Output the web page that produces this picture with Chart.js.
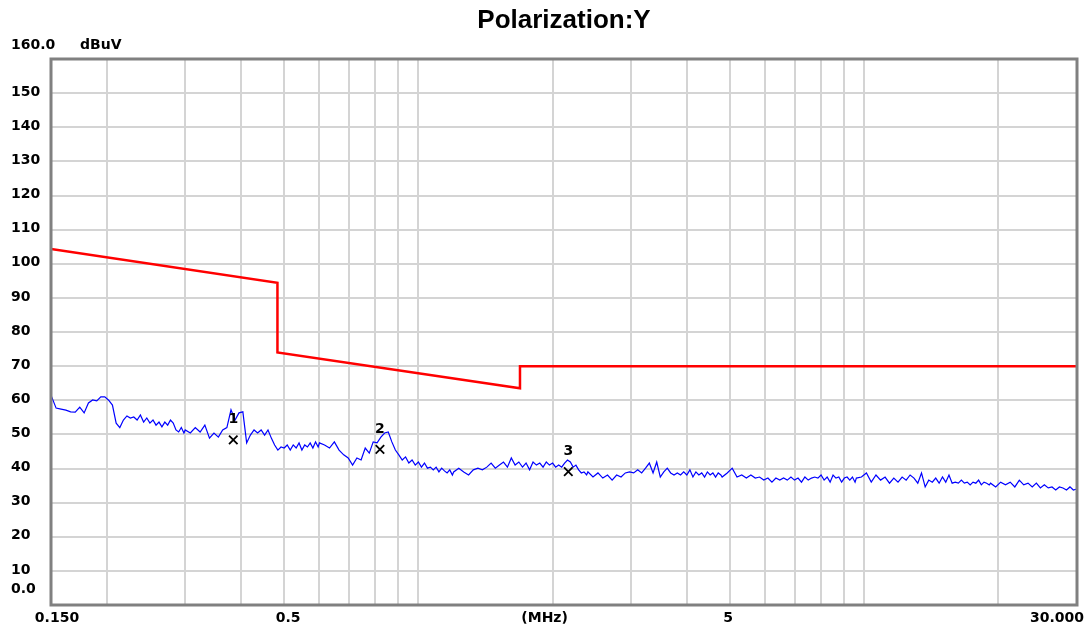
<!DOCTYPE html>
<html>
<head>
<meta charset="utf-8">
<title>Polarization:Y</title>
<script src="https://cdn.jsdelivr.net/npm/chart.js@4.4.0/dist/chart.umd.min.js"></script>
<style>
  html, body { margin: 0; padding: 0; background: #fff; }
  #chart { display: block; }
</style>
</head>
<body>
<canvas id="chart" width="1089" height="631"></canvas>
<script>
// sweep frequencies in MHz, one row per octave
const freqMHz = [
  0.150,0.154,0.158,0.162,0.166,0.170,0.174,0.178,0.182,0.186,0.190,0.194,0.198,0.202,0.206,0.210,0.214,0.218,0.222,0.226,0.230,0.234,0.238,0.242,0.246,0.250,0.254,0.258,0.262,0.266,0.270,0.274,0.278,0.282,0.286,0.290,0.294,0.298,
  0.300,0.308,0.316,0.324,0.332,0.340,0.348,0.356,0.364,0.372,0.380,0.388,0.396,0.404,0.412,0.420,0.428,0.436,0.444,0.452,0.460,0.468,0.476,0.484,0.492,0.500,0.508,0.516,0.524,0.532,0.540,0.548,0.556,0.564,0.572,0.580,0.588,0.596,
  0.600,0.616,0.632,0.648,0.664,0.680,0.696,0.712,0.728,0.744,0.760,0.776,0.792,0.808,0.824,0.840,0.856,0.872,0.888,0.904,0.920,0.936,0.952,0.968,0.984,1.000,1.016,1.032,1.048,1.064,1.080,1.096,1.112,1.128,1.144,1.160,1.176,1.192,
  1.200,1.232,1.264,1.296,1.328,1.360,1.392,1.424,1.456,1.488,1.520,1.552,1.584,1.616,1.648,1.680,1.712,1.744,1.776,1.808,1.840,1.872,1.904,1.936,1.968,2.000,2.032,2.064,2.096,2.128,2.160,2.192,2.224,2.256,2.288,2.320,2.352,2.384,
  2.400,2.464,2.528,2.592,2.656,2.720,2.784,2.848,2.912,2.976,3.040,3.104,3.168,3.232,3.296,3.360,3.424,3.488,3.552,3.616,3.680,3.744,3.808,3.872,3.936,4.000,4.064,4.128,4.192,4.256,4.320,4.384,4.448,4.512,4.576,4.640,4.704,4.768,
  4.800,4.928,5.056,5.184,5.312,5.440,5.568,5.696,5.824,5.952,6.080,6.208,6.336,6.464,6.592,6.720,6.848,6.976,7.104,7.232,7.360,7.488,7.616,7.744,7.872,8.000,8.128,8.256,8.384,8.512,8.640,8.768,8.896,9.024,9.152,9.280,9.408,9.536,
  9.600,9.856,10.112,10.368,10.624,10.880,11.136,11.392,11.648,11.904,12.160,12.416,12.672,12.928,13.184,13.440,13.696,13.952,14.208,14.464,14.720,14.976,15.232,15.488,15.744,16.000,16.256,16.512,16.768,17.024,17.280,17.536,17.792,18.048,18.304,18.560,18.816,19.072,
  19.200,19.712,20.224,20.736,21.248,21.760,22.272,22.784,23.296,23.808,24.320,24.832,25.344,25.856,26.368,26.880,27.392,27.904,28.416,28.928,29.440,29.952,30.000
];
// measured level in dBuV, same rows
const levelDb = [
  61.5,57.7,57.4,57.1,56.6,56.5,58.0,56.3,59.2,60.1,59.8,61.0,61.0,60.0,58.6,53.3,52.0,54.2,55.4,54.8,55.1,54.2,55.7,53.6,54.8,53.3,54.2,52.7,53.6,52.2,53.6,52.7,54.2,53.3,51.3,50.7,52.0,50.4,
  51.3,50.4,52.0,50.7,52.7,48.9,50.4,49.2,51.3,52.0,57.2,54.2,56.3,56.6,47.5,49.8,51.3,50.4,51.3,49.8,51.3,48.9,46.9,45.4,46.3,46.0,46.9,45.4,46.9,46.0,47.5,45.4,46.9,46.3,47.5,46.0,47.8,46.3,
  47.5,46.9,46.0,47.8,45.4,44.0,43.1,41.0,43.1,42.5,46.0,44.5,47.8,47.5,49.2,50.4,50.7,47.8,45.4,44.0,42.5,43.4,41.6,42.5,41.0,41.9,40.4,41.6,40.1,40.4,39.6,40.4,39.0,40.1,39.3,38.7,39.6,38.1,
  39.0,40.1,39.0,38.1,39.6,40.1,39.6,40.4,41.6,40.1,41.0,41.9,40.4,43.1,41.0,41.9,40.4,41.6,39.6,41.9,41.0,41.6,40.4,41.9,41.0,41.6,40.4,41.0,40.4,41.6,42.5,41.9,40.4,41.0,39.6,38.7,39.0,38.1,
  39.0,37.5,38.7,37.2,38.1,36.6,38.1,37.5,38.7,39.0,38.7,39.6,38.7,40.1,41.6,38.7,41.9,37.5,39.0,40.1,38.7,38.1,38.7,38.1,39.0,38.1,39.6,37.5,39.0,38.1,38.7,37.5,39.0,38.1,38.7,37.5,38.7,38.1,
  37.5,38.7,40.1,37.5,38.1,37.2,38.1,37.2,37.5,36.6,37.2,36.0,37.2,36.6,37.2,36.6,37.5,36.6,37.2,36.0,37.5,36.6,37.2,37.5,37.2,38.1,36.6,37.5,36.0,38.1,37.2,37.5,36.0,37.2,37.5,36.6,37.5,36.0,
  37.2,37.5,38.7,36.0,38.1,36.6,37.5,35.7,37.2,36.0,37.5,36.6,38.1,37.2,35.7,38.7,34.6,36.6,36.0,37.2,35.7,37.5,36.0,38.1,35.7,36.0,35.7,36.6,35.7,36.0,35.2,36.0,35.7,36.6,35.2,36.0,35.7,35.2,
  35.7,34.6,36.0,35.2,36.0,34.6,36.6,35.2,35.7,34.6,35.7,34.3,35.2,34.3,34.6,33.7,34.6,34.3,33.7,34.6,33.7,34.0,34.0
];

const limitFreq = [0.15, 0.483, 0.483, 1.69, 1.69, 30];
const limitDb = [104.3, 94.4, 74.0, 63.5, 70, 70];

const markerNo = ['1', '2', '3'];
const markerFreq = [0.3845, 0.820, 2.169];
const markerDb = [48.4, 45.6, 39.1];

const xGrid = [0.2, 0.3, 0.4, 0.5, 0.6, 0.7, 0.8, 0.9, 1, 2, 3, 4, 5, 6, 7, 8, 9, 10, 20];
const yGrid = [0, 10, 20, 30, 40, 50, 60, 70, 80, 90, 100, 110, 120, 130, 140, 150, 160];
const xLabelAt = [0.15, 0.5, 2, 5, 30];
const xLabelText = ['0.150', '0.5', '(MHz)', '5', '30.000'];
const yLabelAt = [10, 20, 30, 40, 50, 60, 70, 80, 90, 100, 110, 120, 130, 140, 150];

const FONT = '"DejaVu Sans", sans-serif';

const textPlugin = {
    id: 'emcText',
    beforeDraw(chart) {
        const ctx = chart.ctx;
        ctx.save();
        ctx.fillStyle = '#fff';
        ctx.fillRect(0, 0, chart.width, chart.height);
        ctx.restore();
    },
    afterDraw(chart) {
        const { ctx, chartArea: a, scales: { x, y } } = chart;
        ctx.save();
        // frame
        ctx.strokeStyle = '#808080';
        ctx.lineWidth = 3;
        ctx.strokeRect(a.left, a.top, a.right - a.left, a.bottom - a.top);

        ctx.fillStyle = '#000';
        ctx.font = 'bold 26px "Liberation Sans", Arial, sans-serif';
        ctx.textAlign = 'center';
        ctx.textBaseline = 'alphabetic';
        ctx.fillText('Polarization:Y', (a.left + a.right) / 2, 28);

        ctx.font = 'bold 14px ' + FONT;
        ctx.textAlign = 'left';
        ctx.textBaseline = 'middle';
        yLabelAt.forEach(v => ctx.fillText(String(v), 11, y.getPixelForValue(v) - 1));
        ctx.fillText('0.0', 11, y.getPixelForValue(0) - 16);
        ctx.fillText('160.0', 11, y.getPixelForValue(160) - 14);
        ctx.fillText('dBuV', 80, y.getPixelForValue(160) - 14);

        // x labels; the last one is kept inside the canvas
        const shift = [6, 4, -8, -2, 0];
        xLabelAt.forEach((v, i) => {
            let px = x.getPixelForValue(v) + shift[i];
            ctx.textAlign = 'center';
            if (i === xLabelAt.length - 1) {
                ctx.textAlign = 'right';
                px = chart.width - 5;
            }
            ctx.fillText(xLabelText[i], px, a.bottom + 13);
        });

        // marker numbers
        ctx.textAlign = 'center';
        markerNo.forEach((n, i) => {
            ctx.fillText(n, x.getPixelForValue(markerFreq[i]), y.getPixelForValue(markerDb[i]) - 20);
        });
        ctx.restore();
    }
};

const ctx = document.getElementById('chart');
new Chart(ctx, {
    type: 'line',
    data: {
        datasets: [
            {
                label: 'Limit',
                data: limitFreq.map((f, i) => ({ x: f, y: limitDb[i] })),
                borderColor: '#ff0000',
                borderWidth: 2.5,
                pointRadius: 0,
                order: 2
            },
            {
                label: 'Level',
                data: freqMHz.map((f, i) => ({ x: f, y: levelDb[i] })),
                borderColor: '#0000ff',
                borderWidth: 1.2,
                pointRadius: 0,
                order: 3
            },
            {
                label: 'Markers',
                type: 'scatter',
                data: markerFreq.map((f, i) => ({ x: f, y: markerDb[i] })),
                pointStyle: 'crossRot',
                pointRadius: 6,
                borderColor: '#000',
                borderWidth: 1.8,
                order: 1
            }
        ]
    },
    options: {
        responsive: false,
        animation: false,
        devicePixelRatio: 1,
        layout: { padding: { left: 51, right: 12, top: 59, bottom: 26 } },
        plugins: {
            legend: { display: false },
            tooltip: { enabled: false },
            title: { display: false }
        },
        scales: {
            x: {
                type: 'logarithmic',
                min: 0.15,
                max: 30,
                afterBuildTicks: scale => { scale.ticks = xGrid.map(v => ({ value: v })); },
                ticks: { display: false },
                grid: { color: '#d4d4d4', lineWidth: 2, drawTicks: false },
                border: { display: false }
            },
            y: {
                type: 'linear',
                min: 0,
                max: 160,
                afterBuildTicks: scale => { scale.ticks = yGrid.map(v => ({ value: v })); },
                ticks: { display: false },
                grid: { color: '#d4d4d4', lineWidth: 2, drawTicks: false },
                border: { display: false }
            }
        }
    },
    plugins: [textPlugin]
});
</script>
</body>
</html>
